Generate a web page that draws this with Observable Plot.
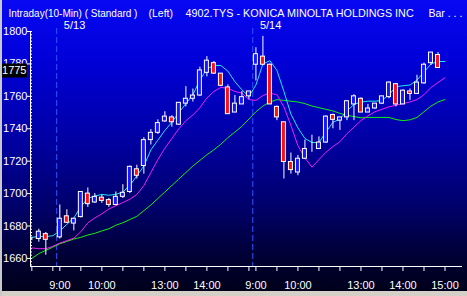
<!DOCTYPE html>
<html><head><meta charset="utf-8">
<script src="https://cdn.jsdelivr.net/npm/d3@7"></script>
<script src="https://cdn.jsdelivr.net/npm/@observablehq/plot@0.6"></script>
<style>
html,body{margin:0;padding:0;background:#000020;}
#chart svg{display:block;}
</style></head><body><div id="chart"></div>
<script>
// 10-minute bars: 5/12 14:30-15:00, 5/13 9:00-15:00, 5/14 9:00-15:00
const open  = [1672,1672,1675,1672,1673,1686,1681.5,1685.5,1700,1694.5,1697.5,1696,1693,1698,1701,1715,1717,1733,1737.5,1744.5,1747,1742.5,1755.5,1758.5,1760.5,1774.5,1780.5,1774,1765.5,1750,1755,1760,
               1779.5,1784.5,1779.5,1753.5,1744,1719.5,1713,1721.5,1728.5,1727.5,1731.5,1748.5,1745,1747,1755,1758.5,1750,1752.5,1755.5,1759.5,1767.5,1755,1763,1761.5,1768,1780.5,1785.5,1775.5];
const high  = [1673,1678,1676,1672,1693,1690,1684.5,1701,1703.5,1700,1699,1697,1701,1705.5,1717,1717.5,1734.5,1739.5,1745.5,1750.5,1748,1756,1766,1764.5,1778,1784.5,1781.5,1774,1767,1760.5,1763,1763,
               1790,1797,1780,1754,1744,1725,1723.5,1733,1736,1735,1748,1749,1747,1757,1761,1759,1755,1755.5,1760,1769,1768,1764,1764.5,1773,1780.5,1787,1787,1775.5];
const low   = [1671,1670,1662,1672,1672,1681.5,1677,1685,1691.5,1694,1694,1691.5,1692.5,1697,1700,1709,1712,1730,1736.5,1744,1741,1742,1753.5,1756.5,1760,1772,1773.5,1766,1749,1750,1755,1758,
               1769.5,1779,1755,1745,1709,1712,1711,1721,1725.5,1727.5,1731,1740,1739,1745,1745,1750,1750,1752,1755,1758.5,1753.5,1755,1757.5,1761.5,1767.5,1779,1777.5,1775.5];
const close = [1672,1676.5,1671.5,1672,1684.5,1682,1684.5,1701,1693.5,1698,1695.5,1693,1698,1700.5,1716.5,1711,1733,1737.5,1743.5,1747.5,1744,1756,1758.5,1760.5,1776,1782,1774,1766.5,1749,1755.5,1759.5,1763,
               1786,1779.5,1755,1747,1719.5,1714.5,1721.5,1727.5,1728.5,1731.5,1747.5,1745.5,1747,1757,1760,1750,1752.5,1755.5,1760,1768.5,1755,1763.5,1761.5,1768.5,1779.5,1787,1777.5,1775.5];
// moving averages
const maShort = [1673,1673.5,1673.5,1674,1677,1681,1685,1692,1697,1698.5,1699.5,1699,1699.5,1701,1705,1711,1717,1727,1733,1739,1744,1750,1755.5,1761,1770,1777,1779,1779,1775.5,1769,1764,1760,
                 1767,1780,1782,1776,1763,1749,1740.5,1734,1731.5,1731.5,1738,1744,1746,1751,1755,1756.5,1757,1757,1757.5,1761,1766,1766.5,1767,1770,1775,1780,1781.5,1781.5];
const maMid   = [1666.5,1666,1666,1667.5,1669.5,1671,1672.5,1676.5,1682,1685,1687.5,1690.5,1692.5,1694.5,1696.5,1699.5,1705,1713,1721,1728,1734,1740,1745,1748.5,1753,1759,1763,1765.5,1765,1763,1762,1758,
                 1757.5,1760.5,1762,1761,1753.5,1742,1729.5,1722,1716.3,1721,1725.5,1729,1732,1737,1741,1745,1748,1750.5,1752,1753.5,1754.5,1755.5,1756.5,1758,1761,1765.5,1768.5,1771.5];
const maLong  = [1660,1663,1665,1667,1669,1670.5,1672,1673,1674.5,1675.5,1677,1678.3,1680.5,1682,1684,1686,1689.5,1693,1697,1701,1705,1709,1713,1717,1720.5,1724,1727,1730.5,1734.5,1738,1741.5,1746,
                 1750.5,1754,1756.5,1758,1757.5,1757,1756.5,1755.5,1754,1753,1752,1751,1749.5,1748.3,1747.5,1746.8,1747,1747,1747,1747,1745.7,1745,1745.5,1747,1750.5,1754,1756.5,1758];
const dayStartBars = [4, 32];
const dayLabels = ["5/13", "5/14"];
const xTickBars = [0,3,4,7,10,13,16,19,22,25,28,31,32,35,38,41,44,47,50,53,56,59];
const xLabelBars = [4,10,19,25,32,38,47,53,59];
const xLabels = ["9:00","10:00","13:00","14:00","9:00","10:00","13:00","14:00","15:00"];
const yTicks = [1660,1680,1700,1720,1740,1760,1780,1800];
const yMinor = [1656,1658,1660,1662,1664,1666,1668,1670,1672,1674,1676,1678,1680,1682,1684,1686,1688,1690,1692,1694,1696,1698,1700,1702,1704,1706,1708,1710,1712,1714,1716,1718,1720,1722,1724,1726,1728,1730,1732,1734,1736,1738,1740,1742,1744,1746,1748,1750,1752,1754,1756,1758,1760,1762,1764,1766,1768,1770,1772,1774,1776,1778,1780,1782,1784,1786,1788,1790,1792,1794,1796,1798,1800];
const lastPrice = 1775;
const titleLeft = "Intraday(10-Min) ( Standard )";
const titleMid = "(Left)";
const titleRight = "4902.TYS - KONICA MINOLTA HOLDINGS INC";
const titleEnd = "Bar . . .";

const bars = open.map((o, i) => ({i, open: o, high: high[i], low: low[i], close: close[i]}));
const labelMap = new Map(xLabelBars.map((b, k) => [b, xLabels[k]]));
const W = 467, H = 296, ML = 30, MR = 5, MT = 28, MB = 30;
const xDomain = [-0.19, 61.5];
const yDomain = [1655.03, 1801.85];
const FONT = "'Liberation Sans', Arial, sans-serif";

const lastMark = (index, scales) => {
  const g = d3.create("svg:g");
  const yc = scales.y(lastPrice);
  g.append("rect").attr("x", 2).attr("y", yc - 8).attr("width", 25).attr("height", 14).attr("fill", "black");
  g.append("text").attr("x", 26.5).attr("y", yc - 1).attr("dy", "0.32em").attr("text-anchor", "end")
    .attr("fill", "white").attr("font-size", 11).attr("font-family", FONT).text(String(lastPrice));
  return g.node();
};

const chart = Plot.plot({
  width: W, height: H,
  marginLeft: ML, marginRight: MR, marginTop: MT, marginBottom: MB,
  style: {
    background: "linear-gradient(to right, #c8c8c8 0, #c8c8c8 2px, transparent 2px), linear-gradient(to bottom, transparent 291px, #d4d0c8 291px), linear-gradient(to bottom, #0808f4 0%, #0000d8 20%, #0000a8 45%, #00006a 70%, #000030 88%, #000018 100%)",
    color: "white", fontFamily: FONT, fontSize: "11px"
  },
  x: {type: "linear", domain: xDomain, axis: null},
  y: {type: "linear", domain: yDomain, axis: null},
  marks: [
    // day separators
    Plot.ruleX(dayStartBars, {x: d => d - 0.45, stroke: "#2f55ff", strokeDasharray: "6,3"}),
    // moving averages
    Plot.line(maLong, {x: (d, i) => i, y: d => d, stroke: "#10f010", strokeWidth: 1}),
    Plot.line(maMid, {x: (d, i) => i, y: d => d, stroke: "#f020f0", strokeWidth: 1}),
    Plot.line(maShort, {x: (d, i) => i, y: d => d, stroke: "#20e8f0", strokeWidth: 1}),
    // candles
    Plot.ruleX(bars, {x: "i", y1: "low", y2: "high", stroke: "white", strokeWidth: 1}),
    Plot.rectY(bars, {x1: d => d.i - 0.5, x2: d => d.i + 0.5, y1: "open", y2: "close", insetLeft: 1.5, insetRight: 1.5,
      fill: d => d.close >= d.open ? "#1818ff" : "#ff1010", stroke: "white", strokeWidth: 1}),
    // y axis
    Plot.ruleX([xDomain[0]], {y1: 1800, y2: yDomain[0], stroke: "white"}),
    Plot.tickY(yMinor, {y: d => d, stroke: "white", insetRight: W - ML - MR - 2}),
    Plot.axisY({ticks: yTicks, tickSize: 3, tickPadding: 0, stroke: "white", fill: "white", fontSize: 11, label: null,
      tickFormat: d => String(d)}),
    // x axis
    Plot.ruleY([yDomain[0]], {stroke: "white"}),
    Plot.axisX({ticks: xTickBars, tickSize: 5, tickPadding: 10, stroke: "white", fill: "white", fontSize: 11, label: null,
      tickFormat: d => labelMap.get(d) ?? ""}),
    // date labels
    Plot.text(dayStartBars, {x: d => d, text: (d, k) => dayLabels[k], frameAnchor: "top", textAnchor: "start", dx: 4, dy: -7, fill: "white", fontSize: 11}),
    // title
    Plot.text([titleLeft], {frameAnchor: "top-left", textAnchor: "start", dx: -22, dy: -19, fill: "white", fontSize: 10}),
    Plot.text([titleMid], {frameAnchor: "top-left", textAnchor: "start", dx: 118, dy: -19, fill: "white", fontSize: 10.5}),
    Plot.text([titleRight], {frameAnchor: "top-left", textAnchor: "start", dx: 155, dy: -19, fill: "white", fontSize: 10.8}),
    Plot.text([titleEnd], {frameAnchor: "top-left", textAnchor: "start", dx: 398, dy: -19, fill: "white", fontSize: 10.5}),
    lastMark
  ]
});
document.getElementById("chart").append(chart);
</script></body></html>
